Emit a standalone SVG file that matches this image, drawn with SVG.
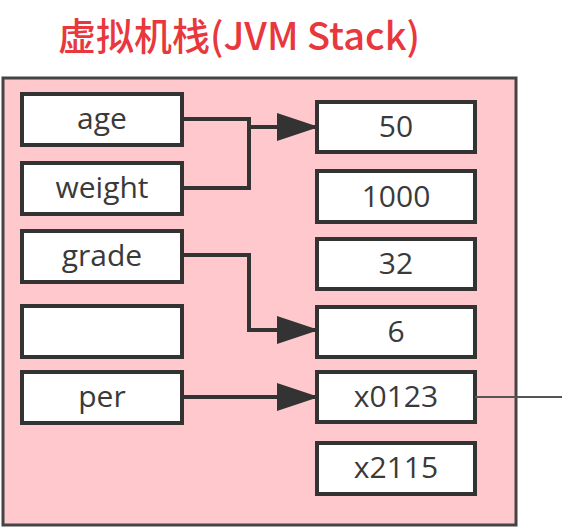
<svg xmlns="http://www.w3.org/2000/svg" width="562" height="530" viewBox="0 0 562 530">
<style>
.box{fill:#ffffff;stroke:#333333;stroke-width:4}
.lbl{font-family:"Open Sans","Noto Sans","Liberation Sans",sans-serif;font-size:30px;fill:#3a3a3a;text-anchor:middle}
.con{fill:none;stroke:#333333;stroke-width:4}
</style>
<defs>
<marker id="arr" markerUnits="userSpaceOnUse" markerWidth="42" markerHeight="28" refX="40" refY="14" orient="auto">
<path d="M0,0 L42,14 L0,28 Z" fill="#333333"/>
</marker>
</defs>
<rect width="562" height="530" fill="#ffffff"/>
<text x="239" y="50" font-family="'Noto Sans CJK SC','Liberation Sans',sans-serif" font-size="38" font-weight="500" fill="#e8383d" text-anchor="middle">虚拟机栈(JVM Stack)</text>
<rect id="stack" x="3" y="78" width="513" height="447" fill="#ffc8cc" stroke="#444444" stroke-width="3"/>
<g id="age"><rect class="box" x="22" y="94" width="160" height="51"/><text class="lbl" x="102" y="129">age</text></g>
<g id="weight"><rect class="box" x="22" y="163" width="160" height="51"/><text class="lbl" x="102" y="198">weight</text></g>
<g id="grade"><rect class="box" x="22" y="231" width="160" height="51"/><text class="lbl" x="102" y="266">grade</text></g>
<g id="empty"><rect class="box" x="22" y="306" width="160" height="51"/></g>
<g id="per"><rect class="box" x="22" y="372" width="160" height="51"/><text class="lbl" x="102" y="407">per</text></g>
<g id="v50"><rect class="box" x="317" y="102" width="158" height="50"/><text class="lbl" x="396" y="137">50</text></g>
<g id="v1000"><rect class="box" x="317" y="171" width="158" height="51"/><text class="lbl" x="396" y="207">1000</text></g>
<g id="v32"><rect class="box" x="317" y="239" width="158" height="50"/><text class="lbl" x="396" y="274">32</text></g>
<g id="v6"><rect class="box" x="317" y="307" width="158" height="50"/><text class="lbl" x="396" y="342">6</text></g>
<g id="vx0123"><rect class="box" x="317" y="372" width="158" height="50"/><text class="lbl" x="396" y="407">x0123</text></g>
<g id="vx2115"><rect class="box" x="317" y="443" width="158" height="51"/><text class="lbl" x="396" y="478">x2115</text></g>
<g id="connectors">
<path class="con" d="M182,119 H249 V188 H182"/>
<path class="con" d="M249,127 H317" marker-end="url(#arr)"/>
<path class="con" d="M182,255 H249 V330 H317" marker-end="url(#arr)"/>
<path class="con" d="M182,397 H317" marker-end="url(#arr)"/>
<path d="M475,397 H562" fill="none" stroke="#555555" stroke-width="2"/>
</g>
</svg>
